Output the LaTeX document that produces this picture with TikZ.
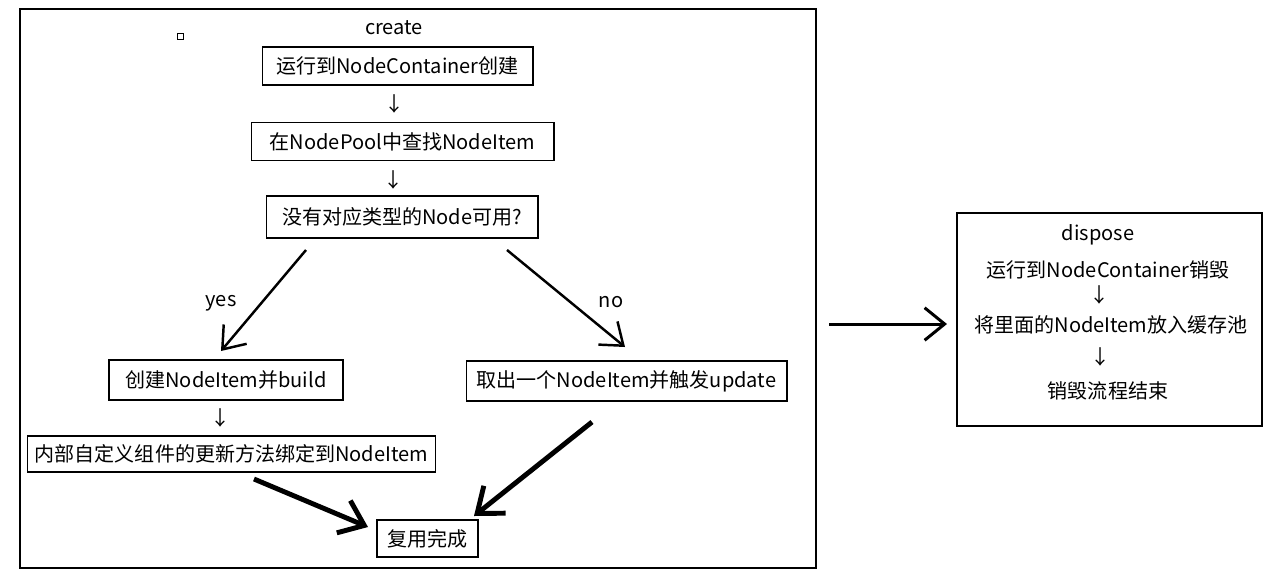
\documentclass[tikz,border=0pt]{standalone}
\usepackage{fontspec}
\setmainfont{Noto Sans CJK SC}
\usetikzlibrary{arrows.meta}

\tikzset{
  stepbox/.style={draw, line width=0.6pt, inner sep=0pt, minimum height=0.76cm},
  plain/.style={inner sep=0pt},
  branch/.style={line width=1.4pt, -{Straight Barb[length=4mm, width=6mm, line width=1.4pt]}},
  merge/.style={line width=2.8pt, -{Straight Barb[length=4.5mm, width=7mm, line width=2.8pt]}}
}

\begin{document}
\begin{tikzpicture}[x=0.02cm, y=-0.02cm, font=\fontsize{11.4}{13}\selectfont]
\useasboundingbox (0,0) rectangle (1279,583);

% Draw the two frames
\draw[line width=0.6pt] (20,9) rectangle (816,568);
\draw[line width=0.6pt] (957,213) rectangle (1262,426);
\draw[line width=0.5pt] (177,33) rectangle (183,39);

% Create steps
\node[plain] (create) at (394,28) {create};
\node[stepbox, minimum width=5.42cm] (run) at (397.5,66) {运行到NodeContainer创建};
\node[plain] (d1) at (395,104) {↓};
\node[stepbox, minimum width=6.06cm] (find) at (402.5,141.5) {在NodePool中查找NodeItem};
\node[plain] (d2) at (394,180) {↓};
\node[stepbox, minimum width=5.44cm, minimum height=0.84cm] (ask) at (402,217) {没有对应类型的Node可用?};
\node[stepbox, minimum width=4.68cm, minimum height=0.8cm] (build) at (226,380) {创建NodeItem并build};
\node[stepbox, minimum width=6.42cm, minimum height=0.8cm] (take) at (626.5,381) {取出一个NodeItem并触发update};
\node[plain] (d3) at (221,418) {↓};
\node[stepbox, minimum width=8.18cm, minimum height=0.72cm] (bind) at (231.5,454) {内部自定义组件的更新方法绑定到NodeItem};
\node[stepbox, minimum width=2.02cm, minimum height=0.74cm] (done) at (427.5,538.5) {复用完成};

% Branch labels
\node[plain] (yes) at (221,303) {yes};
\node[plain] (no) at (611,302) {no};

% Arrow end points
\coordinate (yesA) at (306,250);
\coordinate (yesB) at (221,351);
\coordinate (noA) at (507,250);
\coordinate (noB) at (625,347);
\coordinate (bindA) at (254,479);
\coordinate (bindB) at (368,527);
\coordinate (takeA) at (592,422);
\coordinate (takeB) at (474,516);
\coordinate (goA) at (829,324);
\coordinate (goB) at (947,324);

% Draw the arrows
\draw[branch] (yesA) -- (yesB);
\draw[branch] (noA) -- (noB);
\draw[merge] (bindA) -- (bindB);
\draw[merge] (takeA) -- (takeB);
\draw[line width=1.7pt, -{Straight Barb[length=4mm, width=6.5mm, line width=1.7pt]}] (goA) -- (goB);

% Dispose steps
\node[plain] (dispose) at (1098,235) {dispose};
\node[plain] (unrun) at (1108,270) {运行到NodeContainer销毁};
\node[plain] (d4) at (1100,295) {↓};
\node[plain] (cache) at (1111,325) {将里面的NodeItem放入缓存池};
\node[plain] (d5) at (1101,357) {↓};
\node[plain] (finish) at (1108,391) {销毁流程结束};

\end{tikzpicture}
\end{document}
